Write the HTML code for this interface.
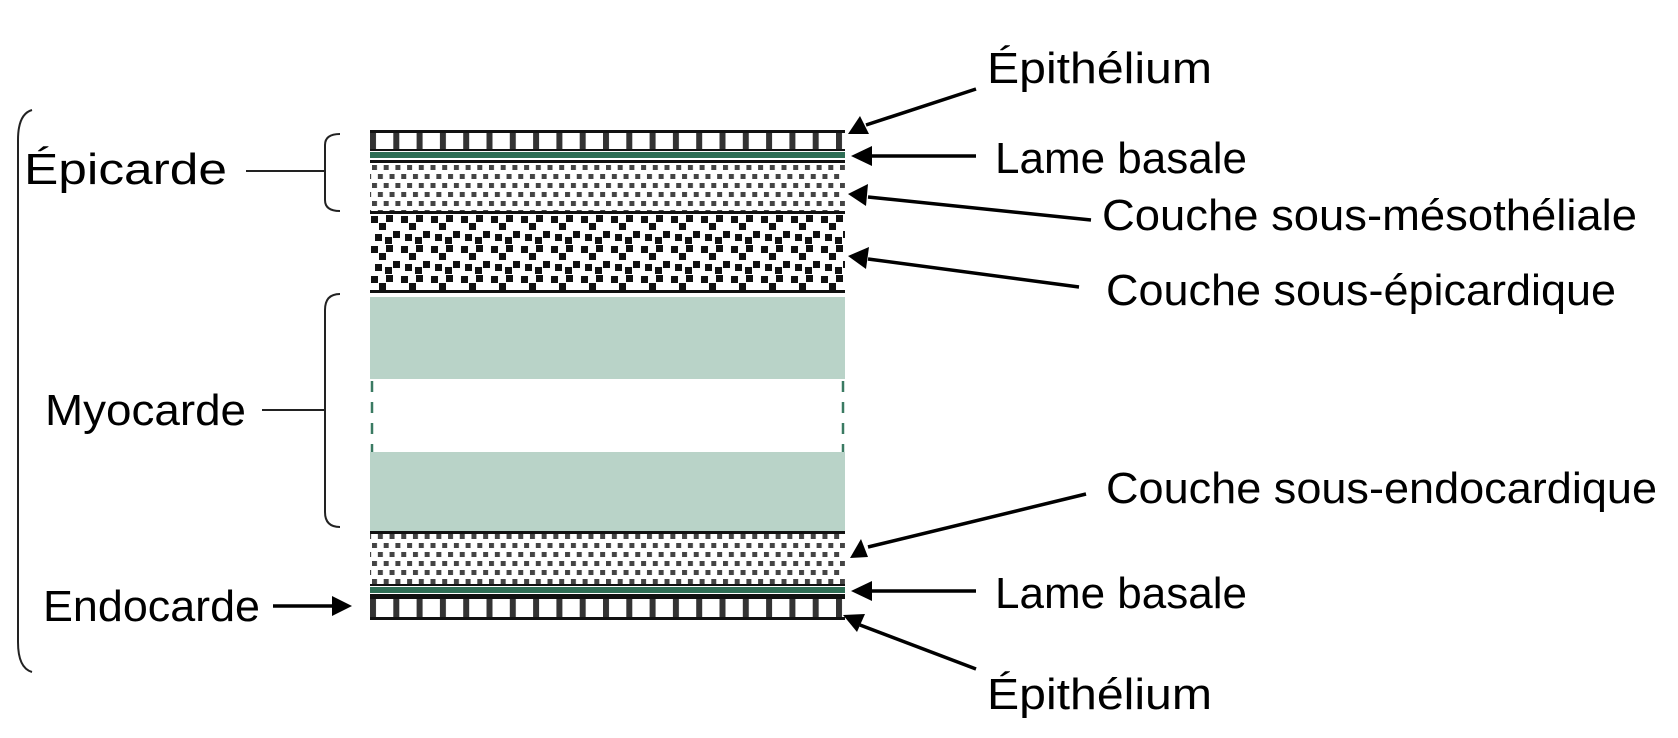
<!DOCTYPE html>
<html><head><meta charset="utf-8"><style>body{margin:0;background:#fff}svg{display:block}</style></head><body>
<svg width="1678" height="738" viewBox="0 0 1678 738" xmlns="http://www.w3.org/2000/svg">
<defs>
<pattern id="cells" x="370" y="0" width="23.3" height="20" patternUnits="userSpaceOnUse">
<rect x="0" y="0" width="6" height="20" fill="#333"/>
</pattern>
<pattern id="dots" x="372" y="165" width="11.7" height="18" patternUnits="userSpaceOnUse">
<rect x="0" y="0" width="5" height="5" fill="#444"/>
<rect x="5.85" y="9" width="5" height="5" fill="#444"/>
</pattern>
<pattern id="sq" x="370" y="214" width="30" height="30" patternUnits="userSpaceOnUse">
<rect x="1" y="2" width="7" height="7" fill="#111"/>
<rect x="9" y="9" width="7" height="7" fill="#111"/>
<rect x="16" y="1" width="7" height="7" fill="#111"/>
<rect x="23" y="17" width="7" height="7" fill="#111"/>
<rect x="5" y="20" width="7" height="7" fill="#111"/>
<rect x="15" y="23" width="7" height="7" fill="#111"/>
</pattern>
</defs>

<rect x="370" y="132" width="475" height="18" fill="url(#cells)"/>
<rect x="370" y="130" width="475" height="3" fill="#111"/>
<rect x="370" y="149" width="475" height="2" fill="#111"/>
<rect x="370" y="152" width="475" height="6" fill="#2e6e55"/>
<rect x="370" y="160" width="475" height="3" fill="#111"/>
<rect x="370" y="163" width="475" height="48" fill="url(#dots)"/>
<rect x="370" y="211" width="475" height="3" fill="#111"/>
<rect x="370" y="214" width="475" height="77" fill="url(#sq)"/>
<rect x="370" y="290" width="475" height="3" fill="#111"/>
<rect x="370" y="297" width="475" height="82" fill="#b9d3c8"/>
<rect x="370" y="452" width="475" height="80" fill="#b9d3c8"/>
<line x1="372" y1="381" x2="372" y2="452" stroke="#3a7a62" stroke-width="2.5" stroke-dasharray="11,10"/>
<line x1="843" y1="381" x2="843" y2="452" stroke="#3a7a62" stroke-width="2.5" stroke-dasharray="11,10"/>
<rect x="370" y="531" width="475" height="3" fill="#111"/>
<rect x="370" y="534" width="475" height="50" fill="url(#dots)"/>
<rect x="370" y="584" width="475" height="2" fill="#111"/>
<rect x="370" y="587" width="475" height="6" fill="#2e6e55"/>
<rect x="370" y="594" width="475" height="2" fill="#111"/>
<rect x="370" y="597" width="475" height="21" fill="url(#cells)"/>
<rect x="370" y="596" width="475" height="3" fill="#111"/>
<rect x="370" y="617" width="475" height="3" fill="#111"/>

<g fill="none" stroke="#222" stroke-width="2">
<path d="M340,134 Q325,134 325,145 L325,200 Q325,211 340,211"/>
<path d="M340,294 Q325,294 325,310 L325,512 Q325,527 340,527"/>
<path d="M32,110 Q18,114 18,140 L18,642 Q18,668 32,672"/>
<line x1="246" y1="171" x2="325" y2="171"/>
<line x1="262" y1="410" x2="325" y2="410"/>
</g>

<g stroke="#000" stroke-width="3.5">
<line x1="976" y1="89" x2="866" y2="125"/>
<line x1="976" y1="156" x2="870" y2="156"/>
<line x1="1091" y1="220" x2="868" y2="197"/>
<line x1="1079" y1="287" x2="868" y2="259"/>
<line x1="1086" y1="494" x2="868" y2="547"/>
<line x1="976" y1="591" x2="870" y2="591"/>
<line x1="976" y1="669" x2="860" y2="625"/>
<line x1="273" y1="606" x2="334" y2="606"/>
</g>
<g fill="#000">
<polygon points="848,134 860,116 869,134"/>
<polygon points="851,156 872,146 872,166"/>
<polygon points="848,194 868,184 866,206"/>
<polygon points="848,256 869,247 866,269"/>
<polygon points="850,558 861,539 868,557"/>
<polygon points="851,591 872,581 872,601"/>
<polygon points="843,615 865,614 857,632"/>
<polygon points="352,606 332,596 332,616"/>
</g>

<g font-family="Liberation Sans, sans-serif" font-size="44" fill="#000">
<text x="987" y="83" textLength="225" lengthAdjust="spacingAndGlyphs">Épithélium</text>
<text x="995" y="173" textLength="252" lengthAdjust="spacingAndGlyphs">Lame basale</text>
<text x="1102" y="230" textLength="535" lengthAdjust="spacingAndGlyphs">Couche sous-mésothéliale</text>
<text x="1106" y="305" textLength="510" lengthAdjust="spacingAndGlyphs">Couche sous-épicardique</text>
<text x="1106" y="503" textLength="551" lengthAdjust="spacingAndGlyphs">Couche sous-endocardique</text>
<text x="995" y="608" textLength="252" lengthAdjust="spacingAndGlyphs">Lame basale</text>
<text x="987" y="709" textLength="225" lengthAdjust="spacingAndGlyphs">Épithélium</text>
<text x="24" y="184" textLength="203" lengthAdjust="spacingAndGlyphs">Épicarde</text>
<text x="45" y="425" textLength="201" lengthAdjust="spacingAndGlyphs">Myocarde</text>
<text x="43" y="621" textLength="217" lengthAdjust="spacingAndGlyphs">Endocarde</text>
</g>
</svg>
</body></html>
